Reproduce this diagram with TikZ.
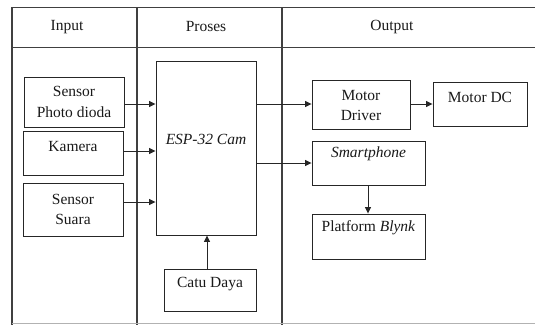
\documentclass[tikz,border=0pt]{standalone}
\usepackage{fontspec}
\setmainfont{Liberation Serif}
\usetikzlibrary{arrows.meta}
\begin{document}
\begin{tikzpicture}[x=1pt,y=-1pt,
  box/.style={draw=black!85, line width=0.9pt, rectangle, inner sep=0pt},
  txt/.style={font=\fontsize{15.5}{20.5}\selectfont, align=center, text=black!90, inner sep=0pt},
  tbl/.style={draw=black!75, line width=1.1pt},
  arr/.style={draw=black!85, line width=0.9pt, -{Triangle[length=6.5pt,width=6pt]}}]
\useasboundingbox (0,0) rectangle (535,324);
% table
\draw[tbl] (540,7.5) -- (12,7.5) -- (12,330);
\draw[tbl] (12,47.5) -- (540,47.5);
\draw[tbl] (137,7.5) -- (137,330);
\draw[tbl] (282,7.5) -- (282,330);
\draw[draw=black!30, line width=1.2pt] (12,323.8) -- (540,323.8);
\node[txt] (hin) at (67,27) {Input};
\node[txt] (hpr) at (206,27) {Proses};
\node[txt] (hout) at (392,27) {Output};
% boxes
\node[box, minimum width=100pt, minimum height=50pt, label={[txt]center:Sensor\\Photo dioda}] (pd) at (74,102) {};
\node[box, minimum width=100pt, minimum height=44pt, label={[txt, yshift=7pt]center:Kamera}] (kam) at (73,153) {};
\node[box, minimum width=100pt, minimum height=53pt, label={[txt]center:Sensor\\Suara}] (ss) at (73,209.5) {};
\node[box, minimum width=100pt, minimum height=174pt, label={[txt, yshift=9pt]center:\itshape ESP-32 Cam}] (esp) at (206,148) {};
\node[box, minimum width=92pt, minimum height=42pt, label={[txt, yshift=6pt]center:Catu Daya}] (cd) at (210,290) {};
\node[box, minimum width=98pt, minimum height=49pt, label={[txt, yshift=-1pt]center:Motor\\Driver}] (md) at (361,104.5) {};
\node[box, minimum width=94pt, minimum height=44pt, label={[txt, yshift=7pt]center:Motor DC}] (mdc) at (480,104) {};
\node[box, minimum width=113pt, minimum height=44pt, label={[txt, yshift=9pt]center:\itshape Smartphone}] (sp) at (368.5,163) {};
\node[box, minimum width=113pt, minimum height=45pt, label={[txt, yshift=8.5pt]center:Platform \textit{Blynk}}] (bl) at (368.5,236.5) {};
% arrows
\draw[arr] (pd.east |- 0,104) -- (esp.west |- 0,104);
\draw[arr] (kam.east |- 0,151) -- (esp.west |- 0,151);
\draw[arr] (ss.east |- 0,202) -- (esp.west |- 0,202);
\draw[arr] (cd.north -| 207,0) -- (esp.south -| 207,0);
\draw[arr] (esp.east |- 0,104) -- (md.west |- 0,104);
\draw[arr] (esp.east |- 0,163) -- (sp.west |- 0,163);
\draw[arr] (md.east |- 0,104) -- (mdc.west |- 0,104);
\draw[arr] (sp.south -| 368,0) -- (bl.north -| 368,0);
\end{tikzpicture}
\end{document}
